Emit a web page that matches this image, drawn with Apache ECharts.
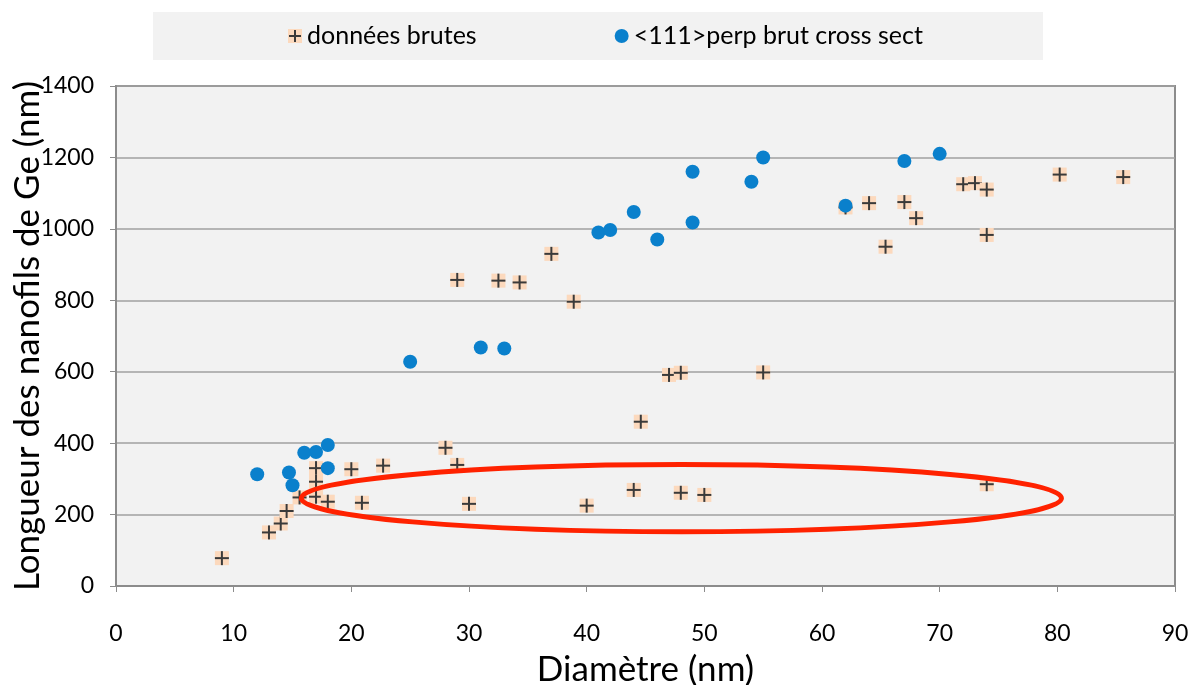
<!DOCTYPE html>
<html>
<head>
<meta charset="utf-8">
<script src="https://cdn.jsdelivr.net/npm/echarts@6/dist/echarts.min.js"></script>
<style>
  html, body { margin: 0; padding: 0; background: #ffffff; }
  #chart { width: 1200px; height: 685px; }
</style>
</head>
<body>
<div id="chart"></div>
<script>
// Raw measurements: diameter (nm) and length (nm) of Ge nanowires
const rawDiameter = [9, 13, 14, 14.5, 15.6, 17, 17, 17, 18, 20, 20.9, 22.7, 28, 29, 30,
  29, 32.5, 34.3, 37, 38.9, 40, 44, 44.6, 47, 48, 48, 50, 55,
  62, 64, 65.4, 67, 68, 72, 73, 74, 74, 74, 80.2, 85.6];
const rawLength = [78, 150, 175, 210, 248, 330, 292, 250, 236, 327, 233, 337, 387, 339, 230,
  857, 855, 850, 930, 796, 225, 269, 460, 591, 597, 261, 255, 598,
  1060, 1072, 950, 1075, 1030, 1125, 1128, 1110, 983, 285, 1152, 1145];

// <111> perpendicular cross-section measurements
const perpDiameter = [12, 14.7, 15, 16, 17, 18, 18, 25, 31, 33, 41, 42, 44, 46, 49, 49, 54, 55, 62, 67, 70];
const perpLength = [313, 318, 282, 373, 375, 395, 330, 628, 668, 665, 990, 997, 1047, 970, 1160, 1018, 1132, 1200, 1065, 1190, 1210];

// Axis ticks
const xTicks = [0, 10, 20, 30, 40, 50, 60, 70, 80, 90];
const yTicks = [0, 200, 400, 600, 800, 1000, 1200, 1400];

// Highlighted group (ellipse, in data units)
const highlight = { cx: 48.05, cy: 246, rx: 32.3, ry: 94 };

const seriesNames = ['données brutes', '<111>perp brut cross sect'];

const rawPoints = rawDiameter.map((d, i) => [d, rawLength[i]]);
const perpPoints = perpDiameter.map((d, i) => [d, perpLength[i]]);

const crossIcon = 'image://data:image/svg+xml;utf8,' + encodeURIComponent(
  '<svg xmlns="http://www.w3.org/2000/svg" width="14" height="14">' +
  '<rect x="0" y="0" width="14" height="14" fill="#fcd9bd"/>' +
  '<rect x="6" y="1" width="2" height="12" fill="#3a3a3a"/>' +
  '<rect x="1" y="6" width="12" height="2" fill="#3a3a3a"/></svg>');

const chart = echarts.init(document.getElementById('chart'));
const font = 'Lato, "Open Sans", sans-serif';

chart.setOption({
  backgroundColor: '#ffffff',
  animation: false,
  textStyle: { fontFamily: font },
  legend: {
    left: 153,
    top: 12,
    padding: [10, 120, 10, 135],
    backgroundColor: '#f2f2f2',
    itemGap: 138,
    itemWidth: 14,
    itemHeight: 14,
    textStyle: { fontSize: 25, color: '#000', fontFamily: font, lineHeight: 28 },
    data: [
      { name: seriesNames[0], icon: crossIcon },
      { name: seriesNames[1], icon: 'circle' }
    ]
  },
  grid: {
    left: 116, right: 25, top: 86, bottom: 99,
    outerBoundsMode: 'none',
    containLabel: false,
    show: true,
    backgroundColor: '#f2f2f2',
    borderColor: '#8c8c8c',
    borderWidth: 2
  },
  xAxis: {
    type: 'value',
    min: xTicks[0], max: xTicks[xTicks.length - 1], interval: 10,
    name: 'Diamètre (nm)',
    nameLocation: 'middle',
    nameGap: 66,
    nameTextStyle: { fontSize: 35, color: '#000', fontFamily: font },
    axisLine: { show: true, lineStyle: { color: '#8c8c8c', width: 2 } },
    axisTick: { show: true, inside: false, length: 6, lineStyle: { color: '#8c8c8c', width: 1 } },
    axisLabel: { fontSize: 23, color: '#000', margin: 36 },
    splitLine: { show: false }
  },
  yAxis: {
    type: 'value',
    min: yTicks[0], max: yTicks[yTicks.length - 1], interval: 200,
    name: 'Longueur des nanofils de Ge (nm)',
    nameLocation: 'middle',
    nameGap: 71,
    nameMoveOverlap: false,
    nameTextStyle: { fontSize: 35, color: '#000', fontFamily: font },
    axisLine: { show: true, lineStyle: { color: '#8c8c8c', width: 2 } },
    axisTick: { show: true, inside: false, length: 6, lineStyle: { color: '#8c8c8c', width: 1 } },
    axisLabel: { fontSize: 23, color: '#000', margin: 22, formatter: v => String(v) },
    splitLine: { show: true, lineStyle: { color: '#a0a0a0', width: 1.5 } }
  },
  series: [
    {
      name: seriesNames[0],
      type: 'custom',
      z: 2,
      data: rawPoints,
      renderItem: function (params, api) {
        const p = api.coord([api.value(0), api.value(1)]);
        const h = 7, a = 7;
        return {
          type: 'group',
          children: [
            { type: 'rect', shape: { x: p[0] - h, y: p[1] - h, width: 2 * h, height: 2 * h },
              style: { fill: '#fcd9bd' } },
            { type: 'line', shape: { x1: p[0] - a, y1: p[1], x2: p[0] + a, y2: p[1] },
              style: { stroke: '#3a3a3a', lineWidth: 2 } },
            { type: 'line', shape: { x1: p[0], y1: p[1] - a, x2: p[0], y2: p[1] + a },
              style: { stroke: '#3a3a3a', lineWidth: 2 } }
          ]
        };
      },
      itemStyle: { color: '#fcd9bd' }
    },
    {
      name: seriesNames[1],
      type: 'scatter',
      z: 3,
      symbol: 'circle',
      symbolSize: 14,
      itemStyle: { color: '#0a80cc', opacity: 1 },
      data: perpPoints
    },
    {
      name: 'highlight',
      type: 'custom',
      z: 4,
      silent: true,
      data: [[highlight.cx, highlight.cy]],
      renderItem: function (params, api) {
        const c = api.coord([highlight.cx, highlight.cy]);
        const s = api.size([highlight.rx, highlight.ry]);
        return {
          type: 'ellipse',
          shape: { cx: c[0], cy: c[1], rx: s[0], ry: s[1] },
          style: { fill: 'none', stroke: '#ff2200', lineWidth: 5 }
        };
      }
    }
  ]
});
</script>
</body>
</html>
